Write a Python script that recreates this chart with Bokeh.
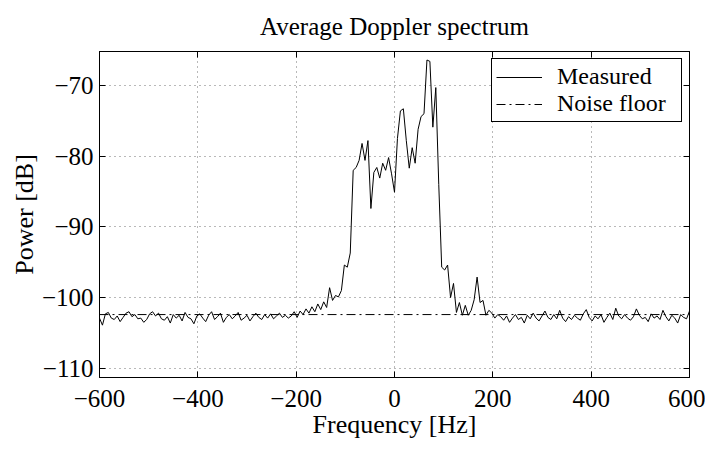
import numpy as np
from bokeh.plotting import figure
from bokeh.models import Range1d, LinearAxis, Legend, LegendItem, FixedTicker, CustomJSTickFormatter
from bokeh.embed import file_html
from bokeh.resources import INLINE

# ---------------- data ----------------
title_text = "Average Doppler spectrum"
x_label = "Frequency [Hz]"
y_label = "Power [dB]"
x_ticks = [-600, -400, -200, 0, 200, 400, 600]
x_tick_labels = ["\u2212600", "\u2212400", "\u2212200", "0", "200", "400", "600"]
y_ticks = [-110, -100, -90, -80, -70]
y_tick_labels = ["\u2212110", "\u2212100", "\u221290", "\u221280", "\u221270"]

freq_step = 6
# measured power, -600 Hz ... -216 Hz
power_left = [
    -102.9, -103.9, -102.3, -102.1, -102.9, -103.1, -102.6, -103.4, -102.8, -102.2,
    -102.0, -102.7, -102.4, -103.0, -102.9, -103.5, -103.1, -102.3, -102.0, -102.6,
    -102.2, -103.0, -103.2, -102.7, -103.6, -102.4, -102.9, -102.5, -103.3, -102.1,
    -102.8, -103.0, -103.7, -102.6, -102.3, -102.9, -103.4, -102.5, -102.0, -103.1,
    -102.7, -102.2, -103.5, -102.8, -102.4, -103.0, -102.6, -102.1, -103.2, -102.9,
    -102.5, -103.3, -102.7, -102.2, -102.8, -103.1, -102.4, -102.9, -102.3, -103.0,
    -102.6, -102.2, -102.8, -102.5, -102.9]
# measured power, -210 Hz ... 210 Hz
power_center = [
    -102.6, -102.0, -102.8, -101.9, -102.4, -101.6, -102.2, -101.3, -102.0, -100.9,
    -101.7, -100.6, -101.4, -98.6, -100.4, -99.7, -99.9, -99.0, -95.4, -95.7,
    -93.7, -82.0, -81.6, -80.6, -78.2, -80.6, -77.8, -87.4, -82.3, -81.6,
    -83.1, -81.0, -82.0, -80.2, -82.5, -85.1, -77.5, -73.6, -73.3, -77.8,
    -81.7, -78.8, -81.0, -76.2, -74.4, -74.0, -66.4, -66.6, -75.9, -70.3,
    -84.0, -95.7, -96.1, -95.4, -100.0, -98.0, -102.1, -100.7, -102.5, -101.1,
    -102.5, -101.8, -100.3, -97.1, -100.7, -100.4, -102.5, -101.8, -102.2, -102.9,
    -102.4]
# measured power, 216 Hz ... 600 Hz
power_right = [
    -102.7, -103.2, -102.6, -103.5, -102.9, -102.4, -103.1, -102.8, -103.6, -102.5,
    -103.0, -102.2, -102.9, -103.3, -102.6, -101.9, -102.8, -103.1, -102.4, -103.0,
    -101.8, -102.9, -103.4, -102.7, -103.1, -102.5, -102.9, -103.2, -102.3, -101.7,
    -102.8, -103.3, -102.6, -103.0, -102.4, -103.5, -102.8, -102.2, -103.1, -101.5,
    -102.6, -103.0, -102.4, -102.9, -103.2, -102.7, -101.6, -102.5, -103.0, -102.8,
    -103.4, -102.3, -102.9, -102.6, -103.1, -101.8, -102.7, -103.3, -102.5, -102.9,
    -103.6, -102.4, -102.8, -103.0, -101.9]
noise_floor_db = -102.4

power = power_left + power_center + power_right
freq = list(np.arange(-600, -600 + freq_step * len(power), freq_step))
noise_x = [-600, 600]
noise_y = [noise_floor_db, noise_floor_db]

# ---------------- figure ----------------
FONT = "Liberation Serif"
p = figure(width=705, height=445, output_backend="svg", toolbar_location=None,
           x_range=Range1d(-600, 600), y_range=Range1d(-111.3, -65.2),
           min_border_left=99, min_border_right=16, min_border_top=51, min_border_bottom=68,
           title=title_text)
p.background_fill_color = "white"
p.border_fill_color = "white"
p.outline_line_color = "black"
p.outline_line_width = 1

p.title.text_font = FONT
p.title.text_font_size = "25px"
p.title.text_font_style = "normal"
p.title.align = "center"
p.title.vertical_align = "top"
p.title.text_color = "black"
p.title.standoff = 20

for ax in (p.xaxis[0], p.yaxis[0]):
    ax.axis_line_color = "black"
    ax.major_tick_line_color = "black"
    ax.major_tick_in = 6
    ax.major_tick_out = 0
    ax.minor_tick_line_color = None
    ax.major_label_text_font = FONT
    ax.major_label_text_font_size = "25px"
    ax.major_label_text_color = "black"
    ax.axis_label_text_font = FONT
    ax.axis_label_text_font_size = "26px"
    ax.axis_label_text_font_style = "normal"
    ax.axis_label_text_color = "black"

p.xaxis.ticker = FixedTicker(ticks=x_ticks)
p.xaxis.major_label_overrides = dict(zip(x_ticks, x_tick_labels))
p.xaxis.axis_label = x_label
p.xaxis.major_label_standoff = 12
p.xaxis.axis_label_standoff = 0

p.yaxis.ticker = FixedTicker(ticks=y_ticks)
p.yaxis.major_label_overrides = dict(zip(y_ticks, y_tick_labels))
p.yaxis.axis_label = y_label
p.yaxis.major_label_standoff = 6
p.yaxis.axis_label_standoff = 0

blank = CustomJSTickFormatter(code="return ''")
for loc, tick in (("right", y_ticks), ("above", x_ticks)):
    a = LinearAxis(ticker=FixedTicker(ticks=tick), formatter=blank,
                   major_tick_in=6, major_tick_out=0, minor_tick_line_color=None,
                   major_label_standoff=0, axis_line_color="black",
                   major_tick_line_color="black")
    p.add_layout(a, loc)

for g, tk in ((p.xgrid[0], x_ticks), (p.ygrid[0], y_ticks)):
    g.ticker = FixedTicker(ticks=tk)
    g.grid_line_color = "black"
    g.grid_line_alpha = 0.55
    g.grid_line_dash = "1 4"
    g.grid_line_width = 1

meas = p.line(freq, power, line_color="black", line_width=1)
nf = p.line(noise_x, noise_y, line_color="black", line_width=1, line_dash="9 4 2 4")

legend = Legend(items=[LegendItem(label="Measured", renderers=[meas]),
                       LegendItem(label="Noise floor", renderers=[nf])],
                location="top_right", margin=7, padding=4, spacing=0,
                glyph_width=46, glyph_height=24, label_height=24, label_width=120,
                label_standoff=15,
                label_text_font=FONT, label_text_font_size="24px", label_text_color="black",
                border_line_color="black", border_line_width=1, border_line_alpha=1,
                background_fill_color="white", background_fill_alpha=1)
p.add_layout(legend)

open("out.html", "w").write(file_html(p, INLINE))
